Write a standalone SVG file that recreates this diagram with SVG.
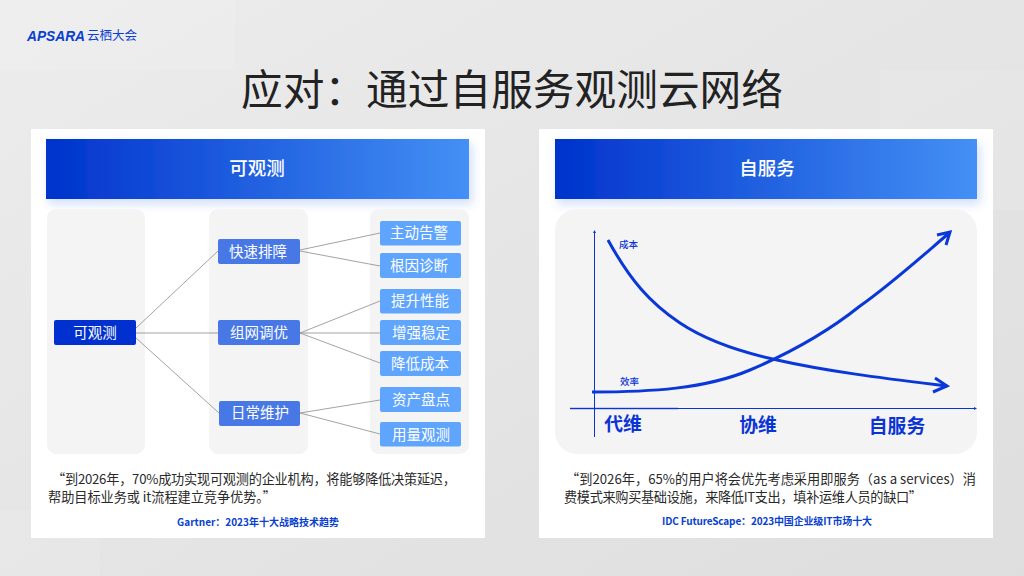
<svg xmlns="http://www.w3.org/2000/svg" width="1024" height="576" viewBox="0 0 1024 576">
<style>
text{font-family:"Noto Sans CJK SC","Noto Sans",sans-serif}
.panel{fill:#f4f4f5}
.head{fill:url(#hg);filter:url(#sh)}
.ht{fill:#fff;font-size:18.500px;font-weight:500;text-anchor:middle}
.root{fill:#0030cf}.mid{fill:#4878e6}.leaf{fill:#5fa5fd}
.nt{fill:#fff;font-size:14.500px;text-anchor:middle}
.conn{stroke:#8c8c8c;stroke-width:.8;fill:none}
.q{fill:#2a2a2a;font-size:13.200px}
.src{fill:#0a3fd0;font-size:10px;font-weight:700;text-anchor:middle}
.axis{stroke:#0a34d6;stroke-width:1;fill:none}
.curve{stroke:#0a38d8;stroke-width:3;fill:none}
.tip{fill:#0a34d6}
.sm{fill:#0a34d6;font-size:9.500px;font-weight:500}
.big{fill:#0a34d6;font-size:18.800px;font-weight:700;text-anchor:middle}
</style>
<defs>
<linearGradient id="bg" x1="0" y1="0" x2="1" y2="1"><stop offset="0" stop-color="#ececec"/><stop offset="1" stop-color="#dedede"/></linearGradient>
<linearGradient id="hg"><stop offset="0" stop-color="#0033cc"/><stop offset="1" stop-color="#4490f5"/></linearGradient>
<filter id="sh" x="-5%" y="-20%" width="110%" height="150%"><feDropShadow dx="3" dy="5" stdDeviation="5" flood-color="#2a55e0" flood-opacity=".2"/></filter>
</defs>
<rect width="1024" height="576" fill="url(#bg)"/>
<rect x="0" y="0" width="235" height="70" fill="#fff" opacity=".12"/>
<rect x="880" y="70" width="144" height="140" fill="#fff" opacity=".1"/>
<rect x="0" y="510" width="100" height="66" fill="#fff" opacity=".1"/>
<g id="logo">
<text x="27" y="41" font-size="14.500" font-weight="700" font-style="italic" fill="#0a3fd0" style="font-family:'Liberation Sans',sans-serif" textLength="58" lengthAdjust="spacingAndGlyphs">APSARA</text>
<text x="87" y="40" font-size="12.500" fill="#0a3fd0">云栖大会</text>
</g>
<text id="title" x="512" y="105" font-size="41.700" fill="#222" text-anchor="middle">应对：通过自服务观测云网络</text>

<g id="card-left">
<rect x="31" y="129" width="454" height="409" fill="#fff"/>
<rect class="head" x="46" y="139" width="423" height="60"/>
<text class="ht" x="257" y="175">可观测</text>
<rect class="panel" x="47" y="209" width="98" height="245" rx="9"/>
<rect class="panel" x="209" y="209" width="99" height="245" rx="9"/>
<rect class="panel" x="370" y="209" width="99" height="245" rx="9"/>
</g>
<g id="connectors">
<path class="conn" d="M136 328L218 251M136 333H218M136 338L219 413"/>
<path class="conn" d="M300 250L380 233M300 251L380 266M300 333L380 301M300 333H380M300 333L380 363M300 413L380 400M300 413L380 434"/>
</g>
<g id="n-root"><rect class="root" x="54" y="320" width="82" height="25" rx="2"/><text class="nt" x="95" y="338">可观测</text></g>
<g id="n-kspz"><rect class="mid" x="218" y="239" width="82" height="25" rx="2"/><text class="nt" x="258" y="257">快速排障</text></g>
<g id="n-zwty"><rect class="mid" x="218" y="320" width="82" height="25" rx="2"/><text class="nt" x="259" y="338">组网调优</text></g>
<g id="n-rcwh"><rect class="mid" x="219" y="401" width="81" height="25" rx="2"/><text class="nt" x="260" y="418">日常维护</text></g>
<g id="n-l1"><rect class="leaf" x="380" y="221" width="81" height="24.500" rx="2"/><text class="nt" x="419" y="238">主动告警</text></g>
<g id="n-l2"><rect class="leaf" x="380" y="253" width="81" height="25" rx="2"/><text class="nt" x="419" y="271">根因诊断</text></g>
<g id="n-l3"><rect class="leaf" x="380" y="289" width="81" height="24.500" rx="2"/><text class="nt" x="420" y="306">提升性能</text></g>
<g id="n-l4"><rect class="leaf" x="380" y="320" width="81" height="25" rx="2"/><text class="nt" x="421" y="338">增强稳定</text></g>
<g id="n-l5"><rect class="leaf" x="380" y="351" width="81" height="25" rx="2"/><text class="nt" x="420" y="369">降低成本</text></g>
<g id="n-l6"><rect class="leaf" x="380" y="387" width="81" height="25" rx="2"/><text class="nt" x="421" y="405">资产盘点</text></g>
<g id="n-l7"><rect class="leaf" x="380" y="422" width="81" height="24.500" rx="2"/><text class="nt" x="421" y="440">用量观测</text></g>
<text class="q" x="52" y="484" textLength="404">“到2026年，70%成功实现可观测的企业机构，将能够降低决策延迟，</text>
<text class="q" x="48" y="502" textLength="228">帮助目标业务或 it流程建立竞争优势。”</text>
<text class="src" x="258" y="526">Gartner：2023年十大战略技术趋势</text>

<g id="card-right">
<rect x="539" y="129" width="454" height="409" fill="#fff"/>
<rect class="head" x="555" y="139" width="422" height="60"/>
<text class="ht" x="767" y="175">自服务</text>
<rect class="panel" x="555" y="209" width="422" height="245" rx="22"/>
</g>
<g id="chart">
<path class="axis" d="M594.500 437V231"/><path class="tip" d="M594.500 230l-1.500 3h3z"/>
<path class="axis" d="M570 408.500H975"/><path class="tip" d="M977 408.500l-3-1.500v3z"/>
<path d="M570 408.500H678" stroke="#0a34d6" stroke-opacity=".4" stroke-width="2" fill="none"/>
<path class="curve" d="M608 240C630 280 650 303 680 323C710 343 745 353 777 360C830 372 890 379 947 386"/>
<path class="curve" d="M592 392C650 392 705 389 750 370C790 353 830 330 860 306C890 285 920 258 948 234"/>
<path class="curve" stroke-width="2.500" d="M935 378L947 386L933 392M937 235L950 232L946 245"/>
<text class="sm" x="619" y="248">成本</text>
<text class="sm" x="620" y="385">效率</text>
<text class="big" x="623" y="431">代维</text>
<text class="big" x="758" y="432">协维</text>
<text class="big" x="897" y="433">自服务</text>
</g>
<text class="q" x="566" y="484" textLength="410">“到2026年，65%的用户将会优先考虑采用即服务（as a services）消</text>
<text class="q" x="564" y="502" textLength="358">费模式来购买基础设施，来降低IT支出，填补运维人员的缺口”</text>
<text class="src" x="767" y="525" textLength="210">IDC FutureScape：2023中国企业级IT市场十大</text>
</svg>
